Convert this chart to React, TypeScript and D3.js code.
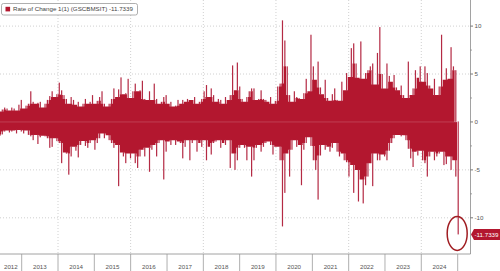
import React from "react";
import * as d3 from "d3";

const W = 500;
const H = 271;

// Series: GSCBMSIT 1-day rate of change, summarised per ~24-day period (period high / period low)
const seriesName = "Rate of Change 1(1) (GSCBMSIT)";
const lastValue = -11.7339;
const firstPeriod = "2012-05-27";
const periodDays = 23.87;

const highs = [
  1.1, 1.3, 1.5, 1.4, 1.2, 1.5, 1.4, 1.2, 1.8, 2.3, 1.4, 1.7, 1.9, 3.2, 2.1, 1.9, 2.0, 2.1, 1.5, 1.9,
  2.3, 2.7, 3.2, 2.6, 2.9, 4.1, 3.3, 2.8, 2.4, 1.9, 2.6, 2.3, 1.8, 2.1, 1.6, 1.9, 2.4, 1.9, 2.1, 2.8,
  1.9, 2.2, 2.6, 3.2, 1.9, 1.6, 1.9, 2.4, 3.5, 2.6, 3.4, 4.65, 2.9, 3.0, 4.5, 2.5, 3.2, 4.0, 3.2, 3.3,
  4.3, 2.4, 2.3, 3.2, 2.3, 4.0, 2.4, 1.9, 2.1, 2.6, 2.8, 1.9, 2.1, 1.6, 1.7, 2.3, 1.9, 2.3, 2.1, 2.4,
  2.3, 2.3, 2.6, 1.9, 2.1, 2.4, 3.2, 3.85, 2.6, 3.5, 2.8, 2.1, 2.4, 2.3, 1.9, 2.6, 2.3, 2.8, 5.9, 3.3,
  6.2, 3.7, 2.4, 2.1, 2.6, 3.2, 3.5, 3.5, 2.3, 2.4, 3.3, 2.4, 2.3, 2.1, 2.6, 1.9, 2.2, 3.7, 4.0, 10.6,
  8.5, 5.8, 2.8, 2.1, 3.2, 2.6, 2.5, 2.4, 3.0, 4.5, 3.2, 9.1, 5.8, 4.4, 6.3, 3.6, 2.9, 4.4, 2.5, 2.2,
  2.9, 3.5, 2.3, 2.2, 4.2, 3.3, 5.1, 4.7, 7.7, 8.2, 6.1, 4.6, 8.4, 4.5, 5.1, 5.4, 5.8, 6.1, 3.9, 7.2,
  9.9, 5.0, 3.5, 6.1, 4.8, 4.2, 4.9, 3.6, 3.3, 3.8, 2.8, 2.5, 6.3, 2.8, 3.5, 5.4, 4.6, 5.8, 4.2, 5.8,
  5.1, 3.8, 3.5, 4.5, 2.8, 3.7, 9.1, 4.4, 5.6, 4.5, 7.8, 5.8, 5.4, 0,
];

const lows = [
  -1.45, -1.3, -1.0, -0.9, -1.1, -1.0, -0.9, -1.2, -0.85, -1.0, -1.2, -0.9, -1.35, -1.5, -1.9, -1.35, -2.3, -1.6, -1.45, -1.5,
  -1.7, -2.7, -2.6, -1.7, -2.0, -2.2, -4.3, -3.2, -3.3, -5.5, -3.6, -2.6, -3.0, -3.7, -2.4, -2.0, -2.5, -2.7, -2.2, -1.9,
  -2.9, -2.2, -1.7, -1.2, -1.7, -1.4, -1.9, -2.2, -2.7, -2.4, -6.7, -3.2, -3.6, -4.3, -3.3, -3.8, -3.3, -4.3, -4.8, -3.6,
  -2.9, -3.6, -2.7, -5.2, -2.9, -2.4, -3.6, -2.2, -1.9, -6.0, -3.1, -2.05, -2.4, -1.9, -2.4, -2.05, -2.2, -3.8, -2.6, -1.9,
  -4.0, -2.2, -1.9, -3.1, -2.2, -2.6, -1.9, -4.0, -2.6, -3.4, -2.2, -2.05, -1.9, -2.7, -2.2, -2.4, -1.9, -4.8, -3.3, -5.0,
  -4.0, -2.7, -2.4, -2.7, -4.0, -2.6, -5.7, -4.0, -2.7, -2.4, -3.1, -2.6, -2.2, -2.05, -2.4, -3.4, -2.6, -2.6, -4.0, -10.9,
  -7.4, -3.3, -5.7, -2.9, -1.9, -2.6, -2.4, -6.6, -2.9, -2.2, -1.6, -2.5, -4.0, -5.0, -8.1, -3.5, -2.4, -2.9, -2.6, -3.1,
  -2.7, -2.2, -3.1, -3.6, -3.3, -4.0, -4.2, -5.7, -4.5, -7.4, -5.0, -8.3, -6.0, -8.5, -6.6, -5.7, -4.3, -6.7, -3.3, -4.0,
  -4.0, -3.4, -3.6, -4.0, -3.0, -2.2, -1.7, -1.35, -1.35, -1.5, -1.4, -1.9, -2.8, -3.8, -4.7, -3.1, -3.5, -3.0, -4.0, -4.3,
  -5.7, -3.6, -3.1, -4.0, -3.6, -3.3, -3.1, -4.5, -4.4, -3.6, -5.0, -4.0, -5.7, -11.7339,
];

const yTicks = [10, 5, 0, -5, -10];
const yMinorTicks = [7.5, 2.5, -2.5, -7.5];
const years = [2012, 2013, 2014, 2015, 2016, 2017, 2018, 2019, 2020, 2021, 2022, 2023, 2024];
const gridYears = [2014, 2016, 2018, 2020, 2022, 2024];

const RED = "#b3172f";
const FONT = "'Liberation Sans', Arial, sans-serif";

export default function App() {
  const plotLeft = 0;
  const plotRight = 470.5;
  const plotTop = 0;
  const plotBottom = 254;

  const x = d3
    .scaleTime()
    .domain([new Date(2013, 0, 1), new Date(2025, 0, 1)])
    .range([21.7, 457.7]);
  const y = d3.scaleLinear().domain([-10, 10]).range([217.8, 26.1]);

  const start = new Date(firstPeriod + "T00:00:00");
  const dates = highs.map((_, i) => d3.timeHour.offset(start, Math.round(i * periodDays * 24)));
  const bw = x(d3.timeHour.offset(start, Math.round(periodDays * 24))) - x(start);
  const n = highs.length;

  // dense core: the level reached by a period and its neighbours
  const coreHi = highs.map((h, i) =>
    i === n - 1 ? 0 : Math.min(h, highs[Math.max(0, i - 1)], highs[Math.min(n - 1, i + 1)])
  );
  const coreLo = lows.map((l, i) =>
    i === n - 1 ? 0 : Math.max(l, lows[Math.max(0, i - 1)], lows[Math.min(n - 2, i + 1)])
  );
  const core = d3
    .area<number>()
    .x((i) => x(dates[i]) - bw / 2)
    .y0((i) => y(coreLo[i]))
    .y1((i) => y(coreHi[i]))
    .curve(d3.curveStepAfter);
  const corePath = core(d3.range(n)) || "";

  const lastX = x(dates[n - 1]);
  const lastY = y(lastValue);

  return (
    <svg
      width={W}
      height={H}
      viewBox={`0 0 ${W} ${H}`}
      style={{ position: "absolute", left: 0, top: 0, background: "#fff" }}
      fontFamily={FONT}
    >
      <rect x={0} y={0} width={W} height={H} fill="#fff" />
      {/* grid */}
      {yTicks
        .filter((t) => t !== 0)
        .map((t) => (
          <line
            key={"gy" + t}
            x1={plotLeft}
            x2={plotRight}
            y1={y(t)}
            y2={y(t)}
            stroke="#c4c4c4"
            strokeWidth={0.8}
            strokeDasharray="1 2"
          />
        ))}
      {gridYears.map((yr) => (
        <line
          key={"gx" + yr}
          x1={x(new Date(yr, 0, 1))}
          x2={x(new Date(yr, 0, 1))}
          y1={plotTop}
          y2={plotBottom}
          stroke="#c4c4c4"
          strokeWidth={0.8}
          strokeDasharray="1 2"
        />
      ))}
      {/* bars: dense core + needles for each period's extremes */}
      <path d={corePath} fill={RED} />
      <g>
        {dates.map((d, i) => {
          const cx = x(d);
          return (
            <g key={i}>
              {highs[i] > coreHi[i] && (
                <rect x={cx - 0.6} width={1.2} y={y(highs[i])} height={y(coreHi[i]) - y(highs[i]) + 0.5} fill="#b42a44" />
              )}
              {lows[i] < coreLo[i] && (
                <rect x={cx - 0.6} width={1.2} y={y(coreLo[i]) - 0.5} height={y(lows[i]) - y(coreLo[i]) + 0.5} fill="#b42a44" />
              )}
            </g>
          );
        })}
      </g>
      <line x1={plotLeft} x2={lastX} y1={y(0)} y2={y(0)} stroke="#ffffff" strokeOpacity={0.25} strokeWidth={0.7} />
      {/* highlight ellipse */}
      <ellipse cx={lastX - 1} cy={lastY - 1} rx={10} ry={17} fill="none" stroke="#a01d22" strokeWidth={1.5} />
      {/* right axis */}
      <line x1={plotRight} x2={plotRight} y1={plotTop} y2={plotBottom} stroke="#8a8a8a" strokeWidth={0.8} />
      {yTicks.map((t) => (
        <g key={"yt" + t}>
          <line x1={plotRight} x2={plotRight + 2.5} y1={y(t)} y2={y(t)} stroke="#555" strokeWidth={0.8} />
          <text x={plotRight + 4} y={y(t)} dy="0.35em" fontSize={6.2} fill="#555">
            {String(t)}
          </text>
        </g>
      ))}
      {yMinorTicks.map((t) => (
        <line key={"ym" + t} x1={plotRight} x2={plotRight + 1.5} y1={y(t)} y2={y(t)} stroke="#777" strokeWidth={0.7} />
      ))}
      {/* last value label */}
      <path
        d={`M${plotRight + 0.5},${lastY} L${plotRight + 3.5},${lastY - 5.5} L${W},${lastY - 5.5} L${W},${lastY + 5.5} L${plotRight + 3.5},${lastY + 5.5} Z`}
        fill={RED}
      />
      <text x={plotRight + 4} y={lastY} dy="0.35em" fontSize={6.2} fill="#fff">
        {String(lastValue)}
      </text>
      {/* bottom axis */}
      <line x1={plotLeft} x2={plotRight} y1={plotBottom} y2={plotBottom} stroke="#8a8a8a" strokeWidth={0.8} />
      {years.map((yr) => {
        const x0 = Math.max(plotLeft, x(new Date(yr, 0, 1)));
        const x1 = x(new Date(yr + 1, 0, 1));
        return (
          <g key={"yr" + yr}>
            <line x1={x1} x2={x1} y1={plotBottom} y2={H} stroke="#9a9a9a" strokeWidth={0.8} />
            <text x={(x0 + x1) / 2} y={268.5} textAnchor="middle" fontSize={6.2} fill="#555">
              {String(yr)}
            </text>
          </g>
        );
      })}
      {/* legend */}
      <rect x={1.5} y={3.5} width={136} height={11.5} rx={2} fill="#fff" stroke="#9a9a9a" strokeWidth={0.8} />
      <rect x={5.5} y={6.8} width={4.6} height={4.6} fill={RED} />
      <text x={13} y={11.4} fontSize={6.2} fill="#444">
        {`${seriesName} ${lastValue}`}
      </text>
    </svg>
  );
}
